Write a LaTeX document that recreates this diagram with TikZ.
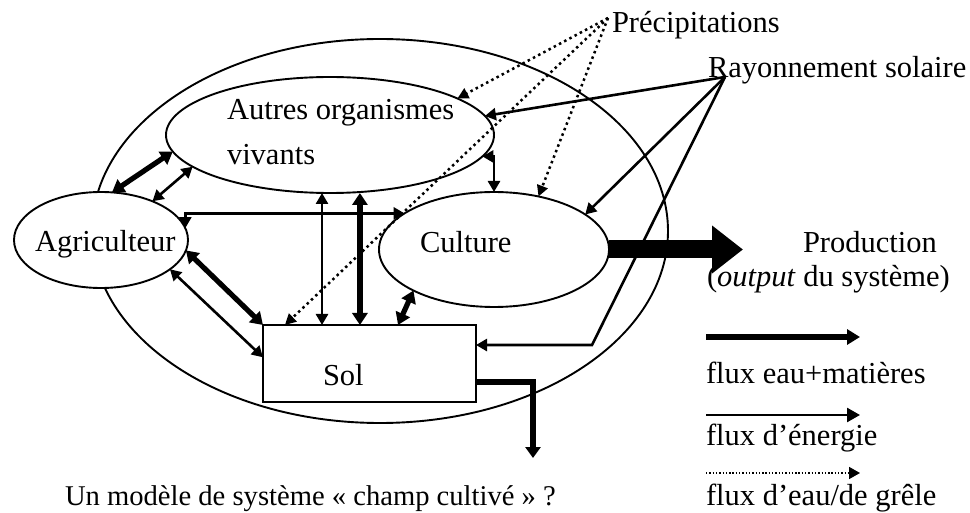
\documentclass[tikz,border=0pt]{standalone}
\usepackage{fontspec}
\setmainfont{Liberation Serif}
\usetikzlibrary{arrows.meta,shapes.geometric,calc}
\begin{document}
\begin{tikzpicture}[x=1pt,y=-1pt,
  every node/.style={font=\fontsize{30.5}{36}\selectfont},
  ell/.style={draw,ellipse,line width=1.9pt,inner sep=0pt,outer sep=0pt},
  lbl/.style={anchor=base west,inner sep=0pt,outer sep=0pt},
  tipthin/.tip={Triangle[length=11pt,width=12pt]},
  tipthick/.tip={Triangle[length=12pt,width=15pt]},
  thinflow/.style={line width=2.6pt,-tipthin},
  thinflowb/.style={line width=2.6pt,tipthin-tipthin},
  thickflow/.style={line width=5.2pt,-tipthick},
  thickflowb/.style={line width=5.2pt,tipthick-tipthick},
  rainflow/.style={line width=2.5pt,dash pattern=on 2.5pt off 3.4pt,-{Triangle[length=11pt,width=11pt]}},
  legrain/.style={line width=1.6pt,dash pattern=on 1.4pt off 1.9pt,-{Triangle[length=11pt,width=12pt]}}
]
\useasboundingbox (0,0) rectangle (970,513);

% system boundary and components
\node[ell,minimum width=576pt,minimum height=384pt] (sys) at (380,231) {};
\node[ell,minimum width=328pt,minimum height=116pt] (autres) at (330,135) {};
\node[ell,fill=white,minimum width=174pt,minimum height=96pt] (agr) at (101,240) {};
\node[ell,minimum width=230pt,minimum height=115pt] (cult) at (494,249.5) {};
\node[draw,rectangle,line width=1.9pt,inner sep=0pt,outer sep=0pt,
      minimum width=213pt,minimum height=77pt] (sol) at (369.5,363.5) {};

% texts
\node[lbl] (tprec) at (612,33) {Précipitations};
\node[lbl] (tray) at (708,78) {Rayonnement solaire};
\node[lbl] (taut1) at (227,120) {Autres organismes};
\node[lbl] (taut2) at (227,165) {vivants};
\node[lbl] (tagr) at (35,252) {Agriculteur};
\node[lbl] (tcult) at (420,253) {Culture};
\node[lbl] (tsol) at (323,385) {Sol};
\node[lbl] (tprod) at (803,253) {Production};
\node[lbl] (tout) at (707,287) {(\textit{output} du système)};
\node[lbl] (tleg1) at (706,383) {flux eau+matières};
\node[lbl] (tleg2) at (706,445) {flux d’énergie};
\node[lbl] (tleg3) at (706,505) {flux d’eau/de grêle};
\node[lbl,font=\fontsize{28.6}{34}\selectfont] (tcap) at (65,505) {Un modèle de système « champ cultivé » ?};

% helper coordinates
\coordinate (ps) at (608,18);
\coordinate (rs) at (725,77);
\coordinate (solW) at ($(sol.north west)!0.42!(sol.south west)$);
\coordinate (v1) at ($(sol.north west)!0.277!(sol.north east)$);
\coordinate (v2) at ($(sol.north west)!0.455!(sol.north east)$);
\coordinate (v3) at ($(sol.north west)!0.634!(sol.north east)$);
\coordinate (v4) at ($(sol.north west)!0.103!(sol.north east)$);
\coordinate (se2) at ($(sol.north east)!0.26!(sol.south east)$);
\coordinate (so1) at ($(sol.north east)!0.74!(sol.south east)$);
\coordinate (bend) at (592,345);
\coordinate (drain) at (533,458);
\coordinate (prodtip) at (743,249.5);

% water + matter flows (thick)
\draw[thickflowb] (agr.77) -- (autres.186);
\draw[thickflowb] (agr.353) -- (sol.north west);
\draw[thickflowb] (v2 |- autres.south) -- (v2);
\draw[thickflowb] (cult.207.7) -- (v3);
\draw[line width=5.2pt,-{Triangle[length=11pt,width=15pt]}] (so1) -| (drain);

% energy flows (thin)
\draw[thinflowb] (agr.37) -- (autres.193);
\draw[thinflowb] (agr.8) |- (cult.158);
\draw[thinflowb] (agr.337) -- (solW);
\draw[thinflowb] (v1 |- autres.south) -- (v1);
\draw[thinflowb] (autres.352) -| (cult.north);
\draw[thinflow] (rs) -- (autres.7);
\draw[thinflow] (rs) -- (cult.21);
\draw[thinflow] (rs) -- (bend) -- (se2);

% rain flows (dotted)
\draw[rainflow] (ps) -- (autres.16);
\draw[rainflow] (ps) -- (v4);
\draw[rainflow] (ps) -- (cult.50);

% production
\draw[line width=18pt,-{Triangle[length=31pt,width=46pt]}] (cult.east) -- (prodtip);

% legend
\coordinate (l1a) at (706,337); \coordinate (l1b) at (860,337);
\coordinate (l2a) at (706,415); \coordinate (l2b) at (860,415);
\coordinate (l3a) at (706,473); \coordinate (l3b) at (860,473);
\draw[line width=5.2pt,-{Triangle[length=13pt,width=15pt]}] (l1a) -- (l1b);
\draw[line width=2.6pt,-{Triangle[length=13pt,width=14pt]}] (l2a) -- (l2b);
\draw[legrain] (l3a) -- (l3b);
\end{tikzpicture}
\end{document}
